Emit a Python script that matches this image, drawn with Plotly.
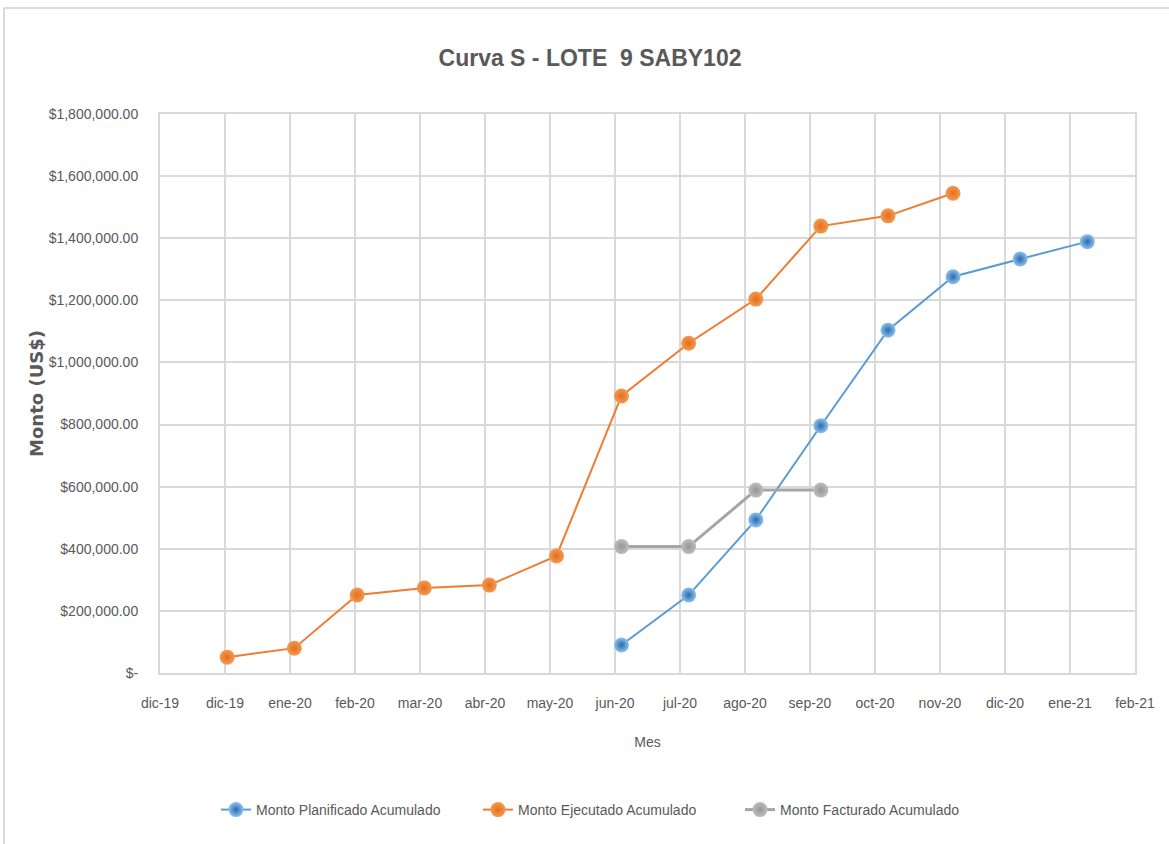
import plotly.graph_objects as go
import pandas as pd

# ---- data ----
planificado_fechas = ["2020-07-01", "2020-08-01", "2020-09-01", "2020-10-01",
                      "2020-11-01", "2020-12-01", "2021-01-01", "2021-02-01"]
planificado_montos = [90000, 251000, 493000, 796000, 1104000, 1276000, 1333000, 1389000]

ejecutado_fechas = ["2020-01-01", "2020-02-01", "2020-03-01", "2020-04-01",
                    "2020-05-01", "2020-06-01", "2020-07-01", "2020-08-01",
                    "2020-09-01", "2020-10-01", "2020-11-01", "2020-12-01"]
ejecutado_montos = [51000, 80000, 251000, 274000, 283000, 377000, 892000, 1062000,
                    1204000, 1439000, 1472000, 1545000]

facturado_fechas = ["2020-07-01", "2020-08-01", "2020-09-01", "2020-10-01"]
facturado_montos = [407000, 407000, 589000, 589000]

x_tick_labels = ["dic-19", "dic-19", "ene-20", "feb-20", "mar-20", "abr-20", "may-20",
                 "jun-20", "jul-20", "ago-20", "sep-20", "oct-20", "nov-20", "dic-20",
                 "ene-21", "feb-21"]
y_tick_values = [0, 200000, 400000, 600000, 800000, 1000000, 1200000, 1400000, 1600000, 1800000]
y_tick_labels = ["$-", "$200,000.00", "$400,000.00", "$600,000.00", "$800,000.00",
                 "$1,000,000.00", "$1,200,000.00", "$1,400,000.00", "$1,600,000.00",
                 "$1,800,000.00"]

# ---- styling ----
FONT = "Liberation Sans, Arial, sans-serif"
TXT = "#595959"
GRID = "#D9D9D9"

x_tick_dates = list(pd.date_range("2019-12-01", periods=len(x_tick_labels), freq="30D"))

fig = go.Figure()

def add_series(name, xs, ys, color, light, dark, lw):
    fig.add_trace(go.Scatter(
        x=xs, y=ys, name=name, mode="lines+markers",
        line=dict(color=color, width=lw),
        marker=dict(size=15, color=light,
                    gradient=dict(type="radial", color=dark),
                    line=dict(width=0)),
    ))

add_series("Monto Planificado Acumulado", planificado_fechas, planificado_montos,
           "#5B9BD5", "#8EC2EE", "#2A6AAE", 2)
add_series("Monto Ejecutado Acumulado", ejecutado_fechas, ejecutado_montos,
           "#ED7D31", "#F59A52", "#E26F1C", 2)
add_series("Monto Facturado Acumulado", facturado_fechas, facturado_montos,
           "#A5A5A5", "#BEBEBE", "#959595", 3)

fig.update_layout(
    width=1169, height=844,
    paper_bgcolor="white", plot_bgcolor="white",
    margin=dict(l=160, r=34, t=114, b=171),
    font=dict(family=FONT, color=TXT, size=14),
    title=dict(text="<b>Curva S - LOTE  9 SABY102</b>", x=590 / 1169, xanchor="center",
               y=1 - 58 / 844, yanchor="middle",
               font=dict(family=FONT, size=23, color=TXT)),
    showlegend=True,
    legend=dict(orientation="h", x=(609 - 160) / 975, xanchor="center",
                y=(673 - 810) / 559, yanchor="middle",
                font=dict(family=FONT, size=14, color=TXT),
                itemwidth=30, entrywidth=217, entrywidthmode="pixels",
                bgcolor="rgba(0,0,0,0)"),
    xaxis=dict(
        type="date",
        range=[x_tick_dates[0], x_tick_dates[-1]],
        tickmode="array", tickvals=x_tick_dates, ticktext=x_tick_labels,
        showgrid=True, gridcolor=GRID, gridwidth=1.5,
        showline=True, linecolor=GRID, linewidth=2, mirror=True,
        ticks="", ticklabelstandoff=16,
        tickfont=dict(family=FONT, size=14, color=TXT),
        title=dict(text="Mes", standoff=27, font=dict(family=FONT, size=14, color=TXT)),
        zeroline=False,
    ),
    yaxis=dict(
        range=[0, 1800000],
        tickmode="array", tickvals=y_tick_values, ticktext=y_tick_labels,
        showgrid=True, gridcolor=GRID, gridwidth=1.5,
        showline=True, linecolor=GRID, linewidth=2, mirror=True,
        ticks="", ticklabelstandoff=17,
        tickfont=dict(family=FONT, size=14, color=TXT),
        title=dict(text="<b>Monto (US$)</b>", standoff=0,
                   font=dict(family="DejaVu Sans", size=18, color=TXT)),
        zeroline=False,
    ),
    shapes=[
        dict(type="line", xref="paper", yref="paper",
             x0=(4 - 160) / 975, x1=(1200 - 160) / 975,
             y0=(673 - 8) / 559, y1=(673 - 8) / 559,
             line=dict(color=GRID, width=2)),
        dict(type="line", xref="paper", yref="paper",
             x0=(4 - 160) / 975, x1=(4 - 160) / 975,
             y0=(673 - 8) / 559, y1=(673 - 900) / 559,
             line=dict(color=GRID, width=2)),
    ],
)

fig.write_html("out.html", config={"displayModeBar": False},
               post_script="document.body.style.margin='0';")
